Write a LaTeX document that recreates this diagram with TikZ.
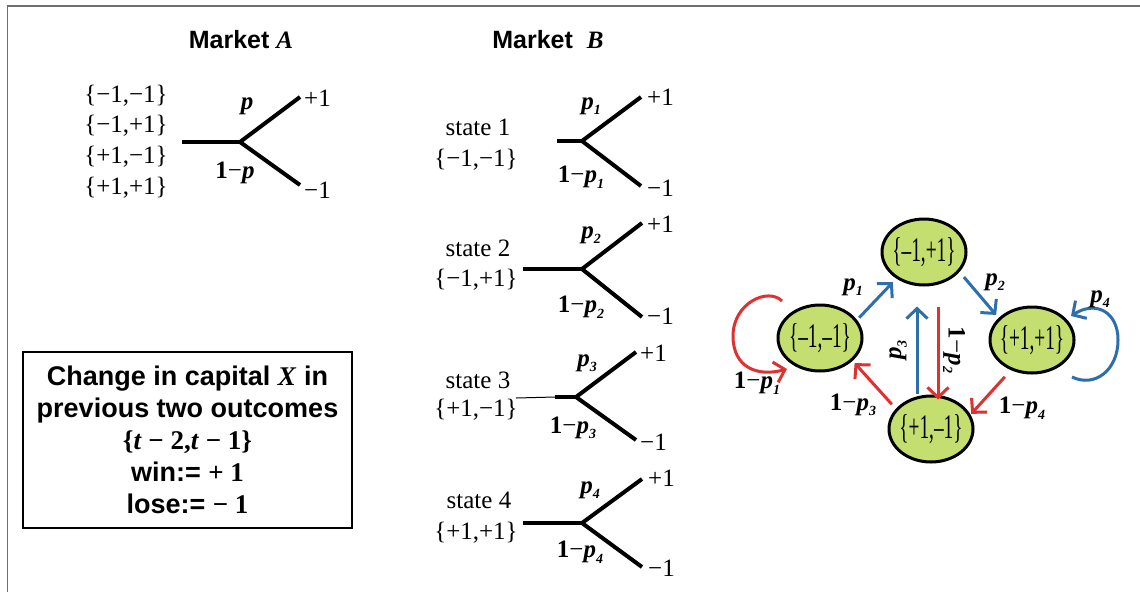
\documentclass[tikz,border=0pt]{standalone}
\usepackage{fontspec}
\setmainfont{Liberation Serif}
\setsansfont{Liberation Sans}
\usetikzlibrary{arrows.meta,shapes.geometric}
\definecolor{lgreen}{RGB}{196,222,112}
\definecolor{myblue}{RGB}{46,110,170}
\definecolor{myred}{RGB}{222,50,50}
\definecolor{framegray}{RGB}{110,110,110}
\newcommand\pv{\textbf{\textit{p}}}
\newcommand\psub[1]{\textbf{\textit{p}}\raisebox{-0.22em}{\fontsize{14}{14}\selectfont\bfseries\itshape #1}}
\newcommand\omp[1]{\textbf{1}−\psub{#1}}
\newcommand\stxt[1]{\scalebox{0.84}[1.5]{\fontsize{23}{23}\selectfont #1}}
\tikzset{
  tree/.style={line width=4pt, line join=miter},
  lab/.style={inner sep=0pt, font=\fontsize{25}{29}\selectfont},
  ttl/.style={inner sep=0pt, font=\fontsize{25}{30}\selectfont\sffamily\bfseries},
  stnode/.style={ellipse, draw, line width=3pt, fill=lgreen, minimum width=84pt, minimum height=66pt, inner sep=0pt},
  sttext/.style={inner sep=0pt},
  barr/.style={line width=3pt, draw=myblue, -{Straight Barb[length=10pt,width=21pt]}},
  rarr/.style={line width=3pt, draw=myred, -{Straight Barb[length=10pt,width=21pt]}}
}
\begin{document}
\begin{tikzpicture}[x=1pt,y=-1pt]
\useasboundingbox (0,0) rectangle (1140,592);
\fill[white] (0,0) rectangle (1140,592);
% frame
\draw[framegray, line width=1.5pt] (1140,6) -- (7.5,6) -- (7.5,592);

% ---------- Market A ----------
\node[ttl] (tA) at (241,40) {Market \textrm{\textit{A}}};
\node[lab] (A1) at (126,96) {\{−1,−1\}};
\node[lab] (A2) at (126,126) {\{−1,+1\}};
\node[lab] (A3) at (126,157) {\{+1,−1\}};
\node[lab] (A4) at (126,188) {\{+1,+1\}};
\coordinate (Ar) at (182,142);
\coordinate (Aj) at (240,142);
\coordinate (Au) at (300,97);
\coordinate (Ad) at (300,185);
\draw[tree] (Ar) -- (Aj);
\draw[tree] (Au) -- (Aj) -- (Ad);
\node[lab] (Ap) at (247,106) {\pv};
\node[lab] (Aq) at (235,173) {\textbf{1}−\pv};
\node[lab, anchor=west] (Aplus) at (304,98) {+1};
\node[lab, anchor=west] (Aminus) at (304,190) {−1};

% ---------- Market B ----------
\node[ttl] (tB) at (548,40) {Market\hspace{14pt}\textrm{\textbf{\textit{B}}}};

% state 1
\node[lab] (s1) at (478,127) {state 1};
\node[lab] (s1v) at (476,160) {\{−1,−1\}};
\coordinate (r1) at (557,141);
\coordinate (j1) at (582,141);
\coordinate (u1) at (641,97);
\coordinate (d1) at (641,186);
\draw[tree] (r1) -- (j1);
\draw[tree] (u1) -- (j1) -- (d1);
\node[lab] (p1) at (591,106) {\psub{1}};
\node[lab] (q1) at (581,177) {\omp{1}};
\node[lab, anchor=west] (pl1) at (647,97) {+1};
\node[lab, anchor=west] (mi1) at (647,188) {−1};

% state 2
\node[lab] (s2) at (478,248) {state 2};
\node[lab] (s2v) at (476,280) {\{−1,+1\}};
\coordinate (r2) at (523,269);
\coordinate (j2) at (582,269);
\coordinate (u2) at (642,223);
\coordinate (d2) at (642,317);
\draw[tree] (r2) -- (j2);
\draw[tree] (u2) -- (j2) -- (d2);
\node[lab] (p2) at (591,235) {\psub{2}};
\node[lab] (q2) at (581,307) {\omp{2}};
\node[lab, anchor=west] (pl2) at (647,224) {+1};
\node[lab, anchor=west] (mi2) at (647,316) {−1};

% state 3
\node[lab] (s3) at (478,380) {state 3};
\node[lab] (s3v) at (476,410) {\{+1,−1\}};
\coordinate (t3) at (516,398);
\coordinate (r3) at (555,397);
\coordinate (j3) at (576,397);
\coordinate (u3) at (636,352);
\coordinate (d3) at (636,440);
\draw[line width=1pt] (t3) -- (r3);
\draw[tree] (r3) -- (j3);
\draw[tree] (u3) -- (j3) -- (d3);
\node[lab] (p3) at (587,363) {\psub{3}};
\node[lab] (q3) at (573,428) {\omp{3}};
\node[lab, anchor=west] (pl3) at (640,353) {+1};
\node[lab, anchor=west] (mi3) at (640,442) {−1};

% state 4
\node[lab] (s4) at (479,500) {state 4};
\node[lab] (s4v) at (476,533) {\{+1,+1\}};
\coordinate (r4) at (523,523);
\coordinate (j4) at (582,523);
\coordinate (u4) at (642,479);
\coordinate (d4) at (642,567);
\draw[tree] (r4) -- (j4);
\draw[tree] (u4) -- (j4) -- (d4);
\node[lab] (p4) at (590,490) {\psub{4}};
\node[lab] (q4) at (580,552) {\omp{4}};
\node[lab, anchor=west] (pl4) at (648,478) {+1};
\node[lab, anchor=west] (mi4) at (648,568) {−1};

% ---------- box ----------
\node[draw, line width=2pt, minimum width=329pt, minimum height=176pt, inner sep=0pt,
      align=center, font=\fontsize{27}{32}\selectfont\sffamily\bfseries] (box) at (187.5,440)
 {Change in capital \textrm{\textbf{\textit{X}}} in\\
  previous two outcomes\\
  \textrm{\textbf{\{\textit{t} − 2,\textit{t} − 1\}}}\\
  win:= \textrm{\textbf{+ 1}}\\
  lose:= \textrm{\textbf{− 1}}};

% ---------- state graph ----------
\node[stnode, label={[sttext]center:\stxt{\{–1,+1\}}}] (b) at (924,252) {};
\node[stnode, label={[sttext]center:\stxt{\{–1,–1\}}}] (a) at (820,338) {};
\node[stnode, label={[sttext]center:\stxt{\{+1,+1\}}}] (d) at (1032,340) {};
\node[stnode, label={[sttext]center:\stxt{\{+1,–1\}}}] (c) at (931,429) {};

\draw[barr] ([xshift=4pt]a.30) -- ([xshift=-10pt]b.235);
\draw[barr] ([xshift=10pt]b.320) -- ([xshift=-6pt]d.140);
\draw[barr, shorten <=1pt, shorten >=20pt] ([xshift=-14pt]c.north) -- ([xshift=-7pt]b.south);
\draw[rarr, shorten <=20pt, shorten >=-5pt] ([xshift=14pt]b.south) -- ([xshift=7pt]c.north);
\draw[rarr, shorten <=6pt, shorten >=3pt] (c.150) -- (a.-35);
\draw[rarr, shorten <=9pt, shorten >=1pt] (d.235) -- (c.20);

\coordinate (l1s) at (782,301);
\coordinate (l1m) at (733,336);
\coordinate (l1e) at (787,369);
\draw[rarr] (l1s) .. controls (768,287) and (733,303) .. (l1m)
   .. controls (733,368) and (758,377) .. (l1e);
\coordinate (l4s) at (1072,377);
\coordinate (l4m) at (1118,340);
\coordinate (l4e) at (1071,316);
\draw[barr] (l4s) .. controls (1095,388) and (1118,370) .. (l4m)
   .. controls (1118,312) and (1096,300) .. (l4e);

\node[lab] (g1) at (853,287) {\psub{1}};
\node[lab] (g2) at (995,282) {\psub{2}};
\node[lab] (g4) at (1100,299) {\psub{4}};
\node[lab] (h1) at (757,383) {\omp{1}};
\node[lab, rotate=90] (g3) at (898,350) {\psub{3}};
\node[lab, rotate=-90] (h2) at (954,350) {\omp{2}};
\node[lab] (h3) at (853,405) {\omp{3}};
\node[lab] (h4) at (1022,408) {\omp{4}};
\end{tikzpicture}
\end{document}
